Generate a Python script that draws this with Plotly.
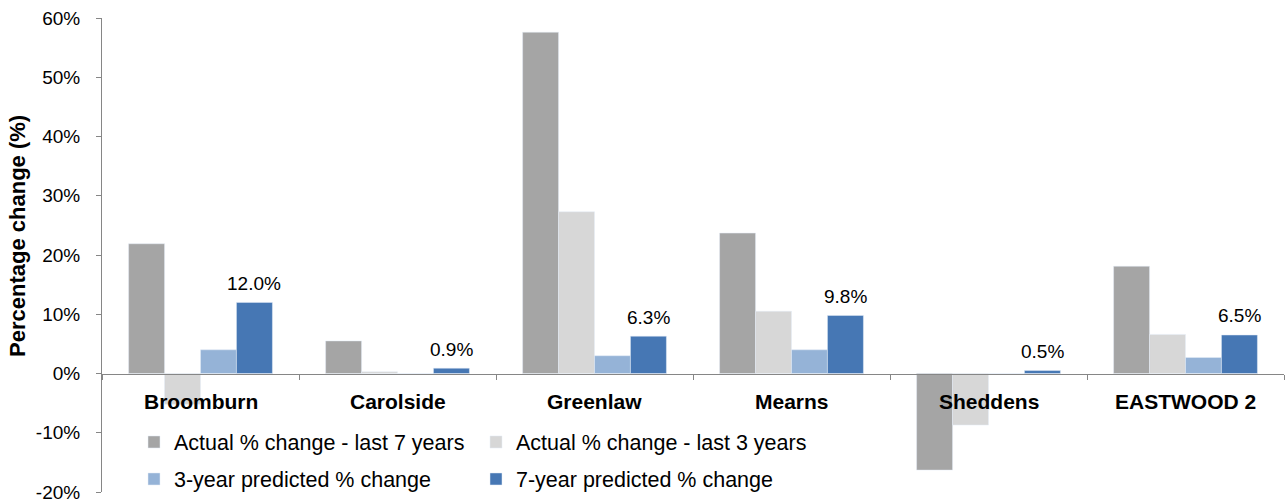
import plotly.graph_objects as go

categories = ["Broomburn", "Carolside", "Greenlaw", "Mearns", "Sheddens", "EASTWOOD 2"]
actual_7yr = [21.9, 5.5, 57.6, 23.7, -16.3, 18.1]
actual_3yr = [-5.2, 0.3, 27.3, 10.5, -8.7, 6.6]
pred_3yr = [4.0, 0.0, 3.0, 4.0, 0.0, 2.7]
pred_7yr = [12.0, 0.9, 6.3, 9.8, 0.5, 6.5]
y_ticks = [-20, -10, 0, 10, 20, 30, 40, 50, 60]
y_tick_labels = ["-20%", "-10%", "0%", "10%", "20%", "30%", "40%", "50%", "60%"]

FONT = "Arial, Liberation Sans, sans-serif"
AXIS_COLOR = "#868686"
BARGAP = 0.27

fig = go.Figure()
fig.add_trace(go.Bar(x=categories, y=actual_7yr, name="Actual % change - last 7 years",
                     marker_color="#A5A5A5", legend="legend"))
fig.add_trace(go.Bar(x=categories, y=actual_3yr, name="Actual % change - last 3 years",
                     marker_color="#D7D7D7", legend="legend2"))
fig.add_trace(go.Bar(x=categories, y=pred_3yr, name="3-year predicted % change",
                     marker_color="#95B3D7", legend="legend3"))
fig.add_trace(go.Bar(x=categories, y=pred_7yr, name="7-year predicted % change",
                     marker_color="#4677B4", legend="legend4"))

# data labels for the 7-year predicted series (4th bar of each group)
plot_w = 1286 - 102 - 2
cat_w = plot_w / len(categories)
bar_w = cat_w * (1 - BARGAP) / 4
for c, v in zip(categories, pred_7yr):
    fig.add_annotation(x=c, y=v, xref="x", yref="y", text=f"{v:.1f}%", showarrow=False,
                       xshift=1.5 * bar_w, yshift=19, yanchor="middle",
                       font=dict(size=19, color="#000000", family=FONT))

for c in categories:
    fig.add_annotation(x=c, y=0, xref="x", yref="y", text=f"<b>{c}</b>", showarrow=False,
                       yanchor="middle", yshift=-28,
                       font=dict(size=21, color="#000000", family=FONT))

fig.add_annotation(xref="paper", yref="paper", x=-0.072, y=0.54, text="<b>Percentage change (%)</b>",
                   textangle=-90, showarrow=False, xanchor="center", yanchor="middle",
                   font=dict(size=22, color="#000000", family=FONT))

def leg(x, y):
    return dict(orientation="h", x=x, y=y, xanchor="left", yanchor="middle",
                font=dict(size=21.5, family=FONT, color="#000000"),
                bgcolor="rgba(0,0,0,0)")

x1 = (134 - 102) / 1182
x2 = (476 - 102) / 1182
y1 = (492 - 442) / 474
y2 = (492 - 479) / 474

fig.update_layout(
    width=1286, height=504,
    margin=dict(l=102, r=2, t=18, b=12),
    paper_bgcolor="white", plot_bgcolor="white",
    barmode="group", bargap=BARGAP, bargroupgap=0,
    font=dict(family=FONT, color="#000000"),
    xaxis=dict(anchor="free", position=0.25, showline=True, linecolor=AXIS_COLOR, linewidth=1,
               ticks="outside", tickson="boundaries", ticklen=5, tickcolor=AXIS_COLOR,
               showticklabels=False, showgrid=False, zeroline=False),
    yaxis=dict(range=[-20, 60], tickvals=y_ticks, ticktext=y_tick_labels, showline=True,
               linecolor=AXIS_COLOR, linewidth=1, ticks="outside", ticklen=5, tickcolor=AXIS_COLOR,
               showgrid=False, zeroline=False, ticklabelstandoff=12,
               tickfont=dict(size=19, family=FONT, color="#000000")),
    legend=leg(x1, y1),
    legend2=leg(x2, y1),
    legend3=leg(x1, y2),
    legend4=leg(x2, y2),
    showlegend=True,
)

fig.write_html("out.html")
